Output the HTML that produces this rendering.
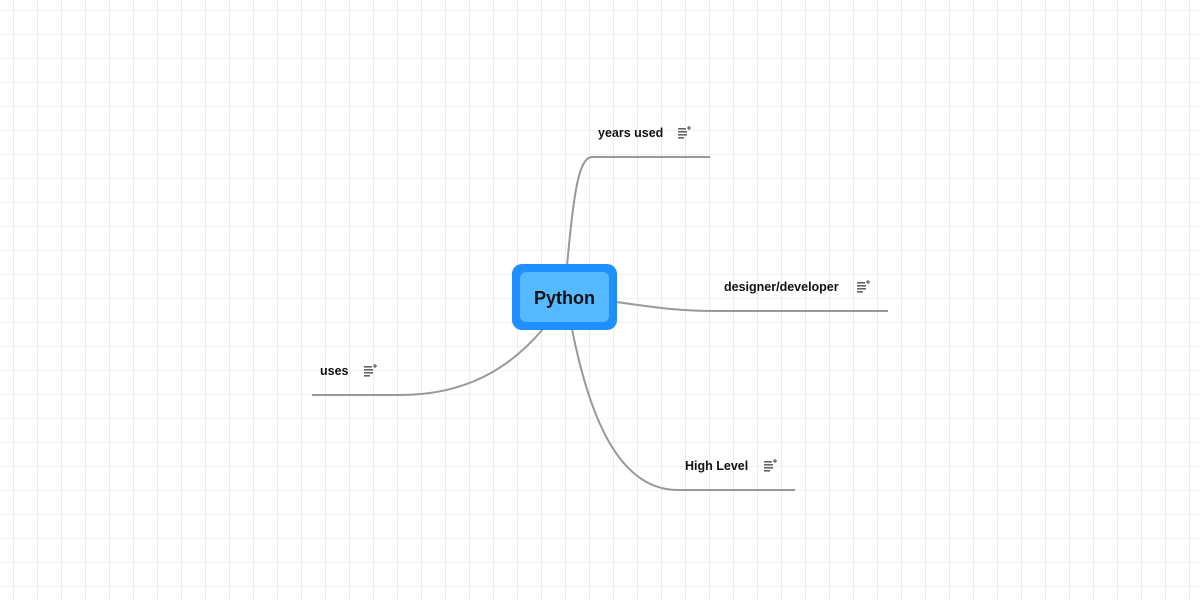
<!DOCTYPE html>
<html><head><style>
body{margin:0;width:1200px;height:600px;overflow:hidden;background:#fff;
background-image:linear-gradient(to right,#eceee4 1px,transparent 1px),linear-gradient(to bottom,#f2f4ea 1px,transparent 1px);
background-size:24px 24px;background-position:13px 10px;font-family:"Liberation Sans",sans-serif;}
.l{position:absolute;font-size:12.5px;font-weight:bold;color:#111;}
</style></head><body>
<svg width="1200" height="600" style="position:absolute;left:0;top:0">
<g fill="none" stroke="#999" stroke-width="2">
<path d="M567,266 C573,200 578,157 592,157 L710,157"/>
<path d="M616,302 C660,308 680,311 715,311 L888,311"/>
<path d="M572,329 C590,420 620,490 678,490 L795,490"/>
<path d="M543,329 C500,380 450,395 400,395 L312,395"/>
</g>
<rect x="512" y="264" width="105" height="66" rx="10" fill="#1e90ff"/>
<rect x="520" y="272" width="89" height="50" rx="6" fill="#56b8ff"/>
<text x="564.5" y="304" text-anchor="middle" font-family="Liberation Sans" font-weight="bold" font-size="18" fill="#111">Python</text>
<g fill="#666">
<g transform="translate(678,128)"><rect x="0" y="0" width="8" height="1.6"/><rect x="0" y="3" width="9" height="1.6"/><rect x="0" y="6" width="9" height="1.6"/><rect x="0" y="9" width="6" height="1.6"/><path d="M9,0 h4 M11,-2 v4" stroke="#666" stroke-width="1.3"/></g>
<g transform="translate(857,282)"><rect x="0" y="0" width="8" height="1.6"/><rect x="0" y="3" width="9" height="1.6"/><rect x="0" y="6" width="9" height="1.6"/><rect x="0" y="9" width="6" height="1.6"/><path d="M9,0 h4 M11,-2 v4" stroke="#666" stroke-width="1.3"/></g>
<g transform="translate(764,461)"><rect x="0" y="0" width="8" height="1.6"/><rect x="0" y="3" width="9" height="1.6"/><rect x="0" y="6" width="9" height="1.6"/><rect x="0" y="9" width="6" height="1.6"/><path d="M9,0 h4 M11,-2 v4" stroke="#666" stroke-width="1.3"/></g>
<g transform="translate(364,366)"><rect x="0" y="0" width="8" height="1.6"/><rect x="0" y="3" width="9" height="1.6"/><rect x="0" y="6" width="9" height="1.6"/><rect x="0" y="9" width="6" height="1.6"/><path d="M9,0 h4 M11,-2 v4" stroke="#666" stroke-width="1.3"/></g>
</g>
</svg>
<div class="l" style="left:598px;top:126px">years used</div>
<div class="l" style="left:724px;top:280px">designer/developer</div>
<div class="l" style="left:685px;top:459px">High Level</div>
<div class="l" style="left:320px;top:364px">uses</div>
</body></html>
